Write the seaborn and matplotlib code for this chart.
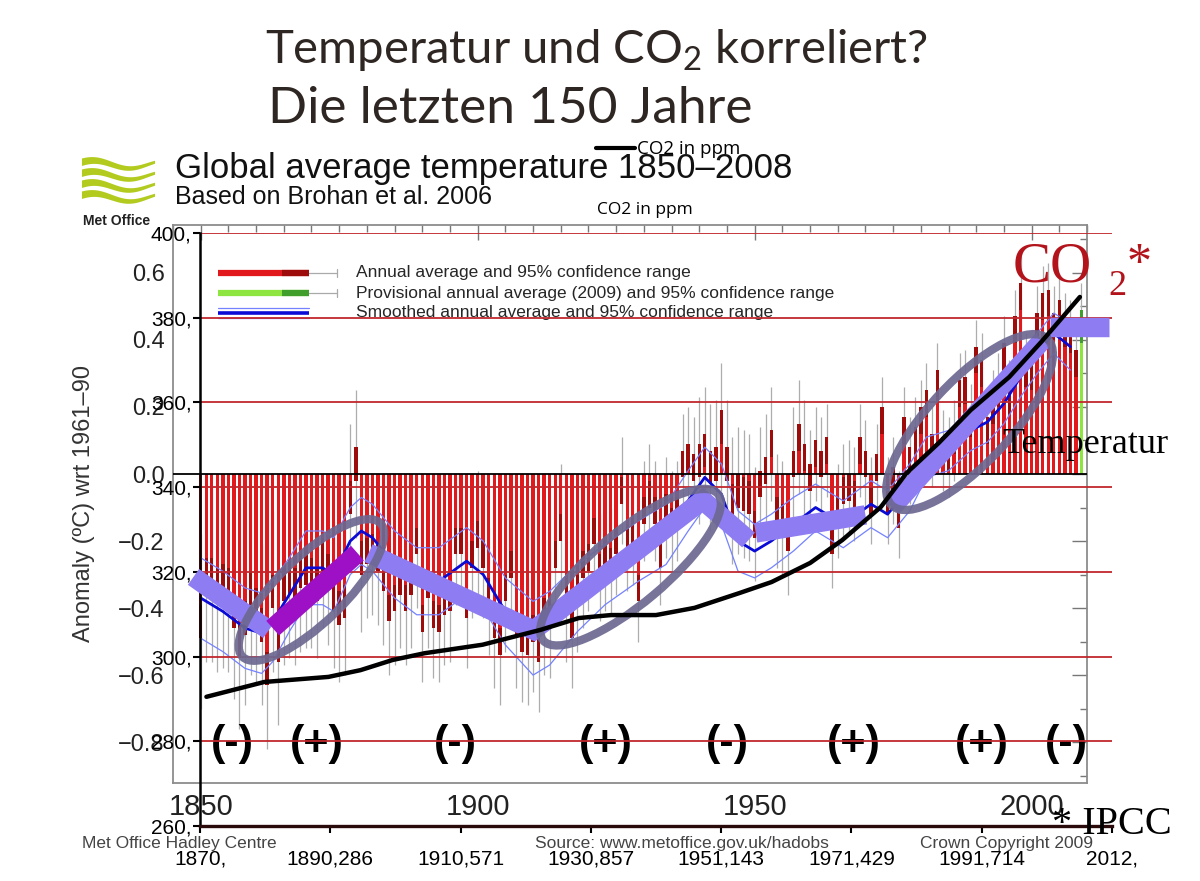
import matplotlib
matplotlib.use('Agg')
import matplotlib.pyplot as plt
import matplotlib.transforms as mtransforms
from matplotlib.lines import Line2D
from matplotlib.patches import Ellipse
from matplotlib.ticker import MultipleLocator, FuncFormatter
import numpy as np
import seaborn as sns

W, H = 1200, 881

# HadCRUT annual global anomaly, deg C wrt 1961-90
years = list(range(1850, 2009))
anomaly = [
    -0.44, -0.30, -0.30, -0.33, -0.32, -0.33, -0.41, -0.50, -0.43, -0.34,
    -0.39, -0.45, -0.58, -0.35, -0.51, -0.33, -0.31, -0.33, -0.29, -0.28,
    -0.30, -0.33, -0.24, -0.29, -0.36, -0.40, -0.38, -0.07, 0.03, -0.25,
    -0.23, -0.22, -0.25, -0.31, -0.40, -0.37, -0.32, -0.37, -0.32, -0.20,
    -0.43, -0.33, -0.42, -0.43, -0.38, -0.37, -0.20, -0.20, -0.39, -0.24,
    -0.18, -0.24, -0.35, -0.45, -0.50, -0.34, -0.27, -0.45, -0.49, -0.50,
    -0.46, -0.52, -0.41, -0.42, -0.24, -0.16, -0.37, -0.45, -0.34, -0.27,
    -0.25, -0.17, -0.28, -0.25, -0.26, -0.20, -0.05, -0.19, -0.17, -0.34,
    -0.11, -0.06, -0.11, -0.24, -0.10, -0.14, -0.11, 0.03, 0.05, 0.02,
    0.04, 0.07, 0.02, 0.03, 0.14, 0.03, -0.08, -0.05, -0.06, -0.07,
    -0.15, -0.03, 0.01, 0.09, -0.11, -0.13, -0.19, 0.03, 0.11, 0.05,
    -0.01, 0.06, 0.03, 0.07, -0.20, -0.11, -0.05, -0.04, -0.06, 0.07,
    0.03, -0.08, 0.02, 0.16, -0.08, -0.02, -0.12, 0.13, 0.04, 0.10,
    0.16, 0.21, 0.08, 0.27, 0.07, 0.05, 0.10, 0.24, 0.25, 0.15,
    0.34, 0.30, 0.13, 0.19, 0.24, 0.35, 0.22, 0.43, 0.53, 0.30,
    0.29, 0.44, 0.50, 0.51, 0.44, 0.48, 0.42, 0.40, 0.33,
]
# uncertainty half-widths per decade (1850s ... 2000s)
ci_dark = [0.05, 0.05, 0.05, 0.04, 0.04, 0.04, 0.04, 0.04,
           0.04, 0.05, 0.04, 0.04, 0.04, 0.04, 0.04, 0.04]
ci_gray = [0.26, 0.24, 0.22, 0.20, 0.19, 0.19, 0.19, 0.16,
           0.15, 0.19, 0.17, 0.14, 0.13, 0.12, 0.12, 0.12]

prov_year = [2009]
prov_value = [0.44]
prov_ci_dark = [0.05]
prov_ci_gray = [0.13]

smooth_years = [1850, 1854, 1858, 1861, 1863, 1866, 1869, 1872, 1874, 1877,
                1879, 1881, 1885, 1889, 1893, 1898, 1901, 1905, 1910, 1913,
                1918, 1923, 1929, 1934, 1938, 1941, 1944, 1947, 1950, 1953,
                1957, 1961, 1963, 1966, 1971, 1974, 1978, 1981, 1985, 1989,
                1992, 1995, 1998, 2001, 2004, 2007]
smooth_values = [-0.37, -0.41, -0.46, -0.475, -0.44, -0.36, -0.28, -0.28, -0.30, -0.20,
                 -0.17, -0.19, -0.27, -0.32, -0.32, -0.26, -0.30, -0.41, -0.49, -0.46,
                 -0.37, -0.30, -0.23, -0.18, -0.08, -0.01, -0.06, -0.20, -0.23, -0.20,
                 -0.15, -0.10, -0.12, -0.15, -0.09, -0.12, -0.04, 0.05, 0.07, 0.13,
                 0.155, 0.21, 0.29, 0.36, 0.42, 0.38]
smooth_ci = [0.12, 0.12, 0.12, 0.12, 0.12, 0.11, 0.11, 0.11, 0.11, 0.10,
             0.10, 0.10, 0.10, 0.10, 0.10, 0.10, 0.10, 0.10, 0.11, 0.11,
             0.10, 0.09, 0.09, 0.09, 0.09, 0.09, 0.09, 0.09, 0.08, 0.08,
             0.08, 0.07, 0.07, 0.07, 0.07, 0.07, 0.07, 0.06, 0.06, 0.06,
             0.06, 0.06, 0.06, 0.06, 0.06, 0.07]

# CO2 overlay (its own year axis 1870-2012)
co2_years = [1871, 1880, 1890, 1895, 1900, 1905, 1914, 1923, 1929, 1934, 1941, 1947,
             1954, 1959, 1965, 1970, 1976, 1980, 1985, 1990, 1996, 2001, 2007]
co2_ppm = [290.5, 294.0, 295.2, 296.8, 299.2, 300.8, 302.8, 306.3, 309.1, 309.8, 309.8, 311.5,
           315.0, 317.6, 322.1, 327.5, 335.3, 343.3, 350.4, 358.2, 366.0, 374.3, 384.9]
co2_yticks = [260, 280, 300, 320, 340, 360, 380, 400]
co2_xticks = [1870, 1890.286, 1910.571, 1930.857, 1951.143, 1971.429, 1991.714, 2012]

# hand-drawn trend strokes (year, anomaly)
trend_light = [
    ([1848.7, 1862.3], [-0.307, -0.466]),
    ([1880.3, 1910.1, 1940.6, 1948.9], [-0.236, -0.466, -0.078, -0.197]),
    ([1950.2, 1970.0], [-0.176, -0.122]),
    ([1974.8, 2002.0], [-0.100, 0.400]),
    ([2003.3, 2013.9], [0.439, 0.439]),
]
trend_magenta = ([1863.0, 1878.3], [-0.460, -0.236])
# circled periods: centre year, centre anomaly, size in px, angle
ell_years = [1870.0, 1927.6, 1988.8]
ell_values = [-0.346, -0.278, 0.155]
ell_sizes = [(192, 66), (228, 72), (228, 82)]
ell_angles = [44, 40, 47]

phase_years = [1855.8, 1870.9, 1896.0, 1923.1, 1945.1, 1967.9, 1991.0, 2006.3]
phase_signs = ['(-)', '(+)', '(-)', '(+)', '(-)', '(+)', '(+)', '(-)']


def fx(px):
    return px / W


def fy(py):
    return 1 - py / H


def main():
    sns.set_theme(style="white")
    plt.rcParams['font.family'] = ['Liberation Sans', 'DejaVu Sans']
    narrow = ['Liberation Sans Narrow', 'Liberation Sans', 'DejaVu Sans']
    serif = ['Liberation Serif', 'DejaVu Serif']

    fig = plt.figure(figsize=(12, 8.81), dpi=100)
    fig.patch.set_facecolor('white')

    # --- Met Office temperature panel ---
    ax_t = fig.add_axes([fx(173), fy(783), (1087 - 173) / W, (783 - 225) / H], zorder=1)
    yr = np.array(years)
    an = np.array(anomaly)
    cd = np.repeat(ci_dark, 10)[:len(years)]
    cg = np.repeat(ci_gray, 10)[:len(years)]

    ax_t.vlines(yr, an - cg, an + cg, color='#adadad', lw=0.9, zorder=1)
    ax_t.bar(yr, an, width=0.62, color='#e2191c', linewidth=0, zorder=2)
    ax_t.bar(yr, 2 * cd, bottom=an - cd, width=0.62, color='#9e0b0b', linewidth=0, zorder=2.5)

    pv = np.array(prov_value)
    ax_t.vlines(prov_year, pv - np.array(prov_ci_gray), pv + np.array(prov_ci_gray),
                color='#adadad', lw=0.9, zorder=1)
    ax_t.bar(prov_year, prov_value, width=0.62, color='#8ee53f', linewidth=0, zorder=2)
    ax_t.bar(prov_year, 2 * np.array(prov_ci_dark), bottom=pv - np.array(prov_ci_dark),
             width=0.62, color='#3f9f2a', linewidth=0, zorder=2.5)

    sv = np.array(smooth_values)
    sc = np.array(smooth_ci)
    for band in (sv + sc, sv - sc):
        sns.lineplot(x=smooth_years, y=band, ax=ax_t, color='#7482ff', linewidth=0.9, zorder=3)
    sns.lineplot(x=smooth_years, y=smooth_values, ax=ax_t, color='#0a0ad6', linewidth=2.0, zorder=4)
    ax_t.axhline(0, color='black', lw=1.3, zorder=5)

    for x, s in zip(phase_years, phase_signs):
        ax_t.text(x, -0.806, s, ha='center', va='center', fontsize=31,
                  fontweight='bold', color='black', zorder=6)

    # legend of the Met Office chart
    tr = ax_t.transAxes
    for yy, c_main, c_dark in [(0.914, '#e2191c', '#9e0b0b'), (0.878, '#8ee53f', '#3f9f2a')]:
        ax_t.plot([0.049, 0.149], [yy, yy], color=c_main, lw=4.5, transform=tr, solid_capstyle='butt')
        ax_t.plot([0.119, 0.149], [yy, yy], color=c_dark, lw=4.5, transform=tr, solid_capstyle='butt')
        ax_t.plot([0.149, 0.179], [yy, yy], color='#aaaaaa', lw=0.9, transform=tr)
        ax_t.plot([0.179, 0.179], [yy - 0.007, yy + 0.007], color='#aaaaaa', lw=0.9, transform=tr)
    ax_t.plot([0.049, 0.149], [0.8513, 0.8513], color='#7482ff', lw=0.9, transform=tr)
    ax_t.plot([0.049, 0.149], [0.8333, 0.8333], color='#7482ff', lw=0.9, transform=tr)
    ax_t.plot([0.049, 0.149], [0.8423, 0.8423], color='#0a0ad6', lw=2.6, transform=tr,
              solid_capstyle='butt')
    leg_texts = ["Annual average and 95% confidence range",
                 "Provisional annual average (2009) and 95% confidence range",
                 "Smoothed annual average and 95% confidence range"]
    for yy, t in zip([0.914, 0.878, 0.8423], leg_texts):
        ax_t.text(0.2002, yy, t, transform=tr, va='center', ha='left',
                  fontsize=12.5, color='#262626')

    ax_t.set_xlim(1845, 2010)
    ax_t.set_ylim(-0.922, 0.743)
    ax_t.xaxis.set_major_locator(MultipleLocator(50))
    ax_t.xaxis.set_minor_locator(MultipleLocator(5))
    ax_t.yaxis.set_major_locator(MultipleLocator(0.2))
    ax_t.yaxis.set_minor_locator(MultipleLocator(0.1))
    ax_t.yaxis.set_major_formatter(FuncFormatter(
        lambda v, p: "0.0" if abs(v) < 1e-9 else f"{v:.1f}".replace('-', '\u2212')))
    ax_t.tick_params(which='both', direction='in', top=True, right=True,
                     color='#777777', width=1.0)
    ax_t.tick_params(which='major', length=11, labelsize=17, labelcolor='#222222', pad=6)
    ax_t.tick_params(axis='x', which='major', labelsize=21, pad=7)
    ax_t.tick_params(which='minor', length=5)
    for sp in ax_t.spines.values():
        sp.set_color('#8c8c8c')
        sp.set_linewidth(1.3)
    ax_t.set_xlabel('')
    ax_t.set_ylabel('')

    # --- CO2 overlay axes ---
    ax_c = fig.add_axes([fx(200), fy(826), (1112 - 200) / W, (826 - 233) / H], zorder=2)
    ax_c.patch.set_visible(False)
    sns.lineplot(x=co2_years, y=co2_ppm, ax=ax_c, color='black', linewidth=3.2, zorder=6)

    for xs, ys in trend_light:
        ax_c.plot(xs, ys, color='#8e7cf2', lw=14, solid_capstyle='butt',
                  solid_joinstyle='miter', transform=ax_t.transData, clip_on=False, zorder=4)
    ax_c.plot(trend_magenta[0], trend_magenta[1], color='#9d10c6', lw=14,
              solid_capstyle='butt', transform=ax_t.transData, clip_on=False, zorder=4)
    for cx, cy, (w, h), ang in zip(ell_years, ell_values, ell_sizes, ell_angles):
        etr = mtransforms.ScaledTranslation(cx, cy, ax_t.transData)
        ax_c.add_patch(Ellipse((0, 0), w, h, angle=ang, fill=False, edgecolor='#6c6891',
                               lw=6, alpha=0.92, transform=etr, clip_on=False, zorder=5))

    ax_c.set_xlim(1870, 2012)
    ax_c.set_ylim(260, 400)
    ax_c.set_yticks(co2_yticks)
    ax_c.set_yticklabels([f"{v}," for v in co2_yticks])
    ax_c.set_xticks(co2_xticks)
    ax_c.set_xticklabels([f"{int(v)}," if float(v).is_integer() else f"{v:.3f}".replace('.', ',')
                          for v in co2_xticks])
    ax_c.grid(axis='y', color='#c1272d', lw=1.3)
    ax_c.grid(axis='x', visible=False)
    ax_c.set_axisbelow(True)
    for s in ['top', 'right']:
        ax_c.spines[s].set_visible(False)
    ax_c.spines['left'].set_color('black')
    ax_c.spines['left'].set_linewidth(1.8)
    ax_c.spines['bottom'].set_color('#2a0a0a')
    ax_c.spines['bottom'].set_linewidth(2.4)
    ax_c.tick_params(direction='out', length=5, width=1.5, color='black', labelsize=15,
                     labelcolor='black', left=True, bottom=True)
    ax_c.tick_params(axis='y', pad=1)
    ax_c.tick_params(axis='x', pad=12)
    ax_c.set_xlabel('')
    ax_c.set_ylabel('')

    # --- Met Office logo ---
    ax_logo = fig.add_axes([fx(80), fy(206), (156 - 80) / W, (206 - 156) / H])
    ax_logo.axis('off')
    xw = np.linspace(0, 1, 60)
    thick = 0.15 - 0.09 * xw
    for i in range(4):
        mid = 0.84 - i * 0.22 + 0.08 * np.sin(2 * np.pi * xw + 0.6)
        ax_logo.fill_between(xw, mid - thick / 2, mid + thick / 2, color='#b3cb1f', lw=0)
    ax_logo.set_xlim(-0.02, 1.02)
    ax_logo.set_ylim(0, 1)

    # --- texts ---
    title_font = ['Lato', 'DejaVu Sans']
    fig.text(fx(265), fy(63), "Temperatur und CO$\\mathregular{_2}$ korreliert?", fontsize=34,
             family=title_font, color='#2e2622', va='baseline')
    fig.text(fx(268), fy(123), "Die letzten 150 Jahre", fontsize=37,
             family=title_font, color='#2e2622', va='baseline', ha='left')
    fig.text(fx(175), fy(178), "Global average temperature 1850\u20132008", fontsize=25,
             color='#111111', va='baseline')
    fig.text(fx(175), fy(204), "Based on Brohan et al. 2006", fontsize=18,
             color='#111111', va='baseline')
    fig.text(fx(83), fy(225), "Met Office", fontsize=10, fontweight='bold',
             family=narrow, color='#222222', va='baseline')
    fig.add_artist(Line2D([fx(596), fx(635)], [fy(148), fy(148)], color='black', lw=3))
    fig.text(fx(637), fy(154), "CO2 in ppm", fontsize=13.5, family=['Open Sans', 'DejaVu Sans'],
             color='black', va='baseline')
    fig.text(fx(597), fy(214), "CO2 in ppm", fontsize=12.5, family=['Open Sans', 'DejaVu Sans'],
             color='black', va='baseline')
    fig.text(fx(84), fy(503), "Anomaly (\u00baC) wrt 1961\u201390", rotation=90, ha='center',
             va='center', fontsize=17, color='#333333')
    fig.text(fx(82), fy(848), "Met Office Hadley Centre", fontsize=12.5, family=narrow,
             color='#444444', va='baseline')
    fig.text(fx(535), fy(848), "Source: www.metoffice.gov.uk/hadobs", fontsize=12.5,
             family=narrow, color='#444444', va='baseline')
    fig.text(fx(920), fy(848), "Crown Copyright 2009", fontsize=12.5, family=narrow,
             color='#444444', va='baseline')

    fig.text(fx(1013), fy(281), "CO", fontsize=41, family=serif, color='#b3141c', va='baseline')
    fig.text(fx(1108), fy(295), "2", fontsize=26, family=serif, color='#b3141c', va='baseline')
    fig.text(fx(1127), fy(277), "*", fontsize=36, family=serif, color='#b3141c', va='baseline')
    fig.text(fx(1002), fy(453), "Temperatur", fontsize=26, family=serif, color='black',
             va='baseline')
    fig.text(fx(1052), fy(834), "* IPCC", fontsize=29, family=serif, color='black',
             va='baseline')

    fig.savefig('out.png', dpi=100)
    plt.close(fig)


if __name__ == "__main__":
    main()
